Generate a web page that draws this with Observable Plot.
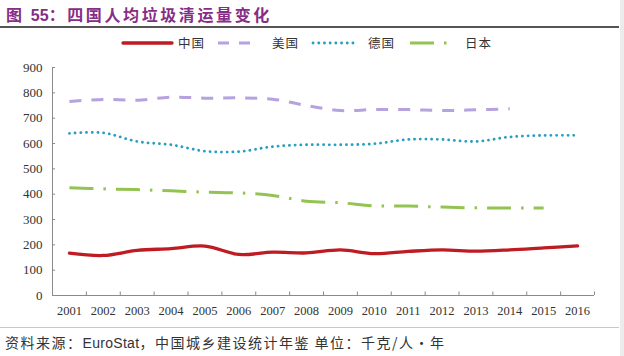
<!DOCTYPE html>
<html>
<head>
<meta charset="utf-8">
<script src="https://cdn.jsdelivr.net/npm/d3@7"></script>
<script src="https://cdn.jsdelivr.net/npm/@observablehq/plot@0.6"></script>
<style>
  html, body { margin: 0; padding: 0; background: #ffffff; }
  #wrap { position: relative; width: 624px; height: 356px; overflow: hidden; background: #fff; }
  #title { position: absolute; left: 6px; top: 2px; font-family: "Noto Sans CJK SC", sans-serif; font-weight: 700;
           font-size: 16px; letter-spacing: 2.6px; color: #862d87; white-space: nowrap; }
  #title .num { font-family: "Liberation Sans", Arial, sans-serif; letter-spacing: 0; }
  #rule1 { position: absolute; left: 0; top: 26px; width: 619px; height: 1.5px; background: #555; }
  #legend { position: absolute; left: 0; top: 34px; width: 624px; height: 18px; }
  .lg { position: absolute; top: 0; height: 18px; }
  .lt { position: absolute; top: 0px; font-family: "Noto Sans CJK SC", serif; font-size: 12.5px; color: #333; line-height: 18px; letter-spacing: 1px; }
  #chart { position: absolute; left: 0; top: 55px; }
  #rule2 { position: absolute; left: 0; top: 327px; width: 619px; height: 1px; background: #c8c8c8; }
  #source { position: absolute; left: 5px; top: 332px; font-family: "Noto Sans CJK SC", sans-serif; font-size: 14px;
            color: #333; letter-spacing: 1.5px; white-space: nowrap; }
  #source .en { font-family: "Liberation Sans", Arial, sans-serif; letter-spacing: 0.3px; }
  #edge { position: absolute; left: 620px; top: 0; width: 4px; height: 356px; background: #ececec; }
</style>
</head>
<body>
<div id="wrap">
  <div id="title">图 <span class="num">55</span>：四国人均垃圾清运量变化</div>
  <div id="rule1"></div>
  <div id="legend"></div>
  <div id="chart"></div>
  <div id="rule2"></div>
  <div id="source">资料来源：<span class="en">EuroStat</span>，中国城乡建设统计年鉴 单位：千克/人·年</div>
  <div id="edge"></div>
</div>
<script>
// ---- data ----
const years = [2001, 2002, 2003, 2004, 2005, 2006, 2007, 2008, 2009, 2010, 2011, 2012, 2013, 2014, 2015, 2016];
const seriesNames = ["中国", "美国", "德国", "日本"];
const china   = [167, 158, 178, 185, 195, 162, 171, 168, 180, 165, 174, 180, 175, 180, 188, 196];
const usa     = [766, 774, 771, 783, 779, 780, 775, 750, 730, 734, 734, 730, 733, 737];            // 2001-2014
const germany = [640, 642, 608, 595, 570, 568, 588, 595, 595, 599, 616, 616, 608, 626, 632, 632];
const japan   = [425, 421, 418, 413, 408, 405, 395, 372, 366, 354, 353, 349, 346, 345, 345];       // 2001-2015
const yTicks  = [0, 100, 200, 300, 400, 500, 600, 700, 800, 900];

// ---- styles ----
const styles = [
  {stroke: "#bf1b22", strokeWidth: 3.3, dash: null, cap: "round"},
  {stroke: "#b6a2de", strokeWidth: 3, dash: "12,10", cap: "butt"},
  {stroke: "#279fc2", strokeWidth: 2.8, dash: "0.1,5.6", cap: "round"},
  {stroke: "#93c452", strokeWidth: 3, dash: "24,10,2.5,10", cap: "butt"}
];
const values = [china, usa, germany, japan];

const toRows = arr => arr.map((v, i) => ({year: years[i], value: v}));
const boundaries = years.map(y => y - 0.5).concat([years[years.length - 1] + 0.5]);
const x0 = boundaries[0], x1 = boundaries[boundaries.length - 1];
const axisColor = "#8a8a8a";

const lineMarks = values.map((arr, k) => Plot.line(toRows(arr), {
  x: "year", y: "value", curve: "catmull-rom",
  stroke: styles[k].stroke, strokeWidth: styles[k].strokeWidth,
  strokeDasharray: styles[k].dash || undefined, strokeLinecap: styles[k].cap
}));

const plot = Plot.plot({
  width: 624, height: 265,
  marginLeft: 52, marginRight: 30, marginTop: 12, marginBottom: 25,
  style: {background: "transparent", fontFamily: "'Liberation Serif', serif", color: "#333"},
  x: {type: "linear", domain: [x0, x1]},
  y: {domain: [0, 900]},
  marks: [
    Plot.axisY(yTicks, {tickSize: 0, tickPadding: 10, fontSize: 13, label: null, tickFormat: d => String(d)}),
    Plot.axisX(years, {tickSize: 0, tickPadding: 11, fontSize: 12.5, label: null, tickFormat: d => String(d)}),
    Plot.ruleX([x0], {y1: 0, y2: 900, stroke: axisColor}),
    Plot.ruleY([0], {x1: x0, x2: x1, stroke: axisColor}),
    Plot.ruleX(boundaries, {y1: 0, y2: 14, stroke: axisColor}),
    Plot.ruleY(yTicks, {x1: x0, x2: x0 + 0.09, stroke: axisColor}),
    ...lineMarks
  ]
});
document.getElementById("chart").appendChild(plot);

// ---- legend ----
const legendPos = [
  {line: [123, 172], text: 178},
  {line: [218, 256], text: 272},
  {line: [313, 357], text: 368},
  {line: [410, 449], text: 465}
];
const lg = document.getElementById("legend");
seriesNames.forEach((name, k) => {
  const p = legendPos[k], s = styles[k];
  const w = p.line[1] - p.line[0];
  const svg = document.createElementNS("http://www.w3.org/2000/svg", "svg");
  svg.setAttribute("class", "lg");
  svg.setAttribute("width", w + 4);
  svg.setAttribute("height", 18);
  svg.style.left = (p.line[0] - 2) + "px";
  const ln = document.createElementNS("http://www.w3.org/2000/svg", "line");
  ln.setAttribute("x1", 2); ln.setAttribute("x2", w + 2);
  ln.setAttribute("y1", 9); ln.setAttribute("y2", 9);
  ln.setAttribute("stroke", s.stroke);
  ln.setAttribute("stroke-width", s.strokeWidth);
  ln.setAttribute("stroke-linecap", s.cap);
  if (k === 1) ln.setAttribute("stroke-dasharray", "11,10");
  else if (k === 3) ln.setAttribute("stroke-dasharray", "24,10,2.5,10");
  else if (s.dash) ln.setAttribute("stroke-dasharray", s.dash);
  svg.appendChild(ln);
  lg.appendChild(svg);
  const t = document.createElement("div");
  t.className = "lt";
  t.style.left = p.text + "px";
  t.textContent = name;
  lg.appendChild(t);
});
</script>
</body>
</html>
